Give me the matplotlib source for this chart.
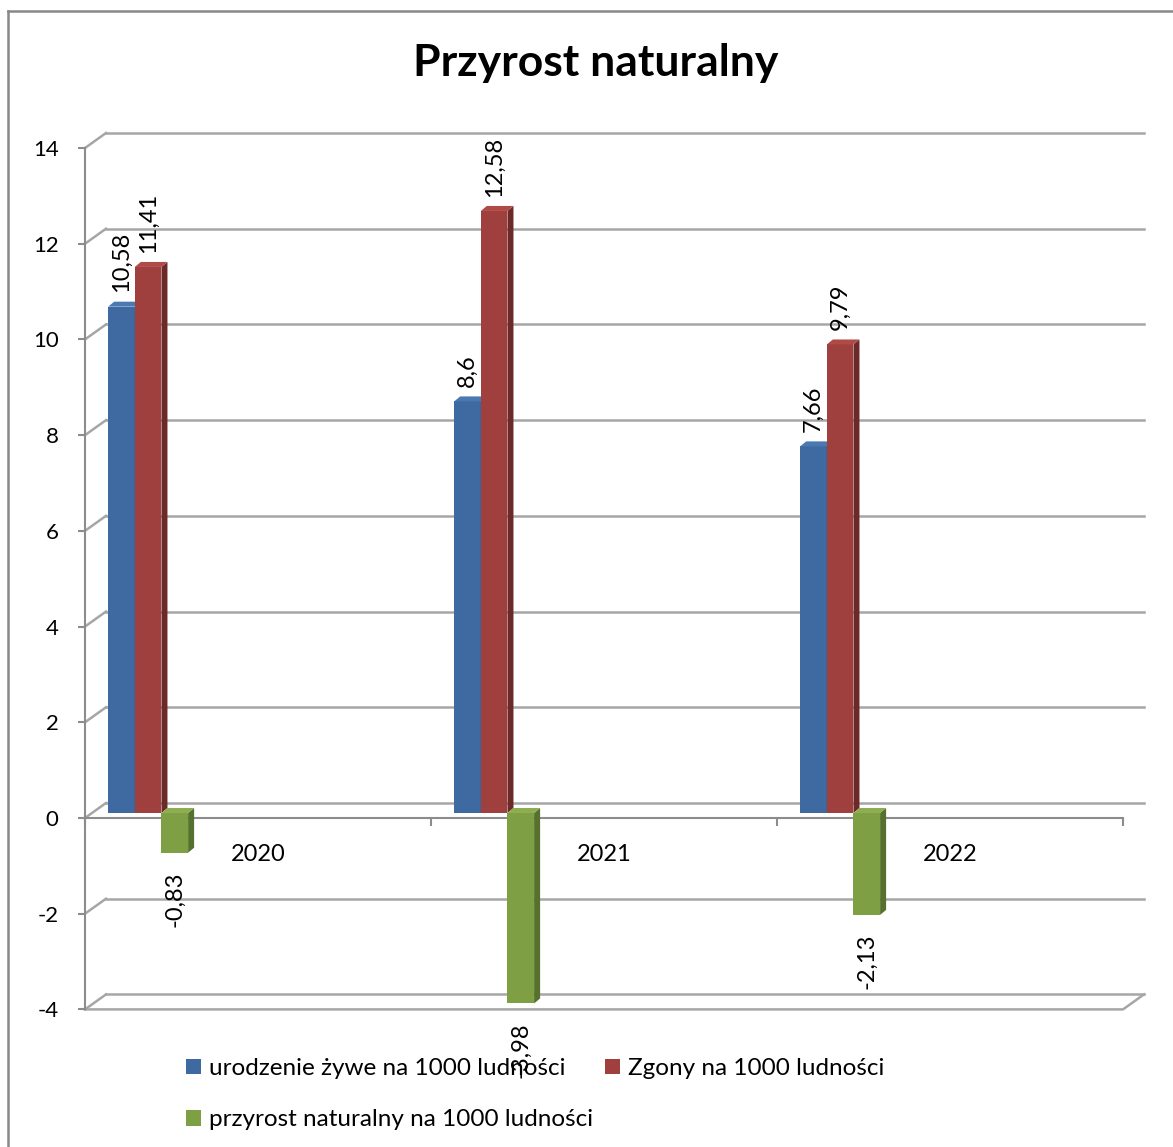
import matplotlib
matplotlib.use('Agg')
import matplotlib.pyplot as plt
from matplotlib.patches import Polygon, Rectangle
from matplotlib.lines import Line2D
from matplotlib import transforms

plt.rcParams['font.family'] = ['Lato', 'DejaVu Sans']
plt.rcParams['axes.unicode_minus'] = False

years = ['2020', '2021', '2022']
urodzenia = [10.58, 8.6, 7.66]
zgony = [11.41, 12.58, 9.79]
przyrost = [-0.83, -3.98, -2.13]
series_names = ['urodzenie żywe na 1000 ludności',
                'Zgony na 1000 ludności',
                'przyrost naturalny na 1000 ludności']
yticks = [-4, -2, 0, 2, 4, 6, 8, 10, 12, 14]

front = ['#3F6AA1', '#A0403E', '#7F9F45']
side = ['#2C4B73', '#6B2A28', '#56702E']
top = ['#4A78B0', '#B04A47', '#8DAE50']
grid_c = '#A6A6A6'

W, H = 1173, 1147
fig = plt.figure(figsize=(W / 100, H / 100), dpi=100)
x0, x1, ytop, ybot = 85, 1123, 148, 1009.4
ax = fig.add_axes([x0 / W, (H - ybot) / H, (x1 - x0) / W, (ybot - ytop) / H])
ax.set_xlim(0, 3)
ax.set_ylim(-4, 14)
ppx = (x1 - x0) / 3
ppy = (ybot - ytop) / 18

# depth of the 3d walls, in data units
DX, DY = 21 / ppx, 15 / ppy
for v in yticks:
    ax.plot([DX, 3 + DX], [v + DY, v + DY], color=grid_c, lw=1.8, zorder=1, clip_on=False)
    ax.plot([0, DX], [v, v + DY], color=grid_c, lw=1.8, zorder=1, clip_on=False)
# floor
ax.plot([0, 3, 3 + DX], [-4, -4, -4 + DY], color=grid_c, lw=1.8, zorder=1, clip_on=False)

for s in ['top', 'right']:
    ax.spines[s].set_visible(False)
ax.spines['left'].set_color('#8C8C8C')
ax.spines['left'].set_linewidth(1.5)
ax.spines['bottom'].set_position(('data', 0))
ax.spines['bottom'].set_color('#8C8C8C')
ax.spines['bottom'].set_linewidth(1.5)
ax.set_yticks(yticks)
ax.set_yticklabels([str(v) for v in yticks])
ax.tick_params(axis='y', direction='out', length=5, width=1.5, color='#8C8C8C',
               pad=14, labelsize=16)
ax.set_xticks([0, 1, 2, 3])
ax.set_xticklabels([])
ax.set_xticks([0.5, 1.5, 2.5], minor=True)
ax.set_xticklabels(years, minor=True)
ax.tick_params(axis='x', which='major', direction='out', length=6, width=1.5, color='#8C8C8C')
ax.tick_params(axis='x', which='minor', length=0, pad=19, labelsize=17)
ax.patch.set_visible(False)

# bars sit a bit inside the depth
shift = transforms.offset_copy(ax.transData, fig=fig, x=0, y=5, units='dots')
bw = 0.077
bdx, bdy = 6 / ppx, 5 / ppy
series = [urodzenia, zgony, przyrost]
for k, vals in enumerate(series):
    for i, v in enumerate(vals):
        xl = i + 0.067 + k * bw
        xr = xl + bw
        z = 3 + k
        ax.add_patch(Rectangle((xl, 0), bw, v, facecolor=front[k], edgecolor='none',
                               transform=shift, zorder=z))
        ax.add_patch(Polygon([(xr, 0), (xr, v), (xr + bdx, v + bdy), (xr + bdx, bdy)],
                             closed=True, facecolor=side[k], edgecolor='none',
                             transform=shift, zorder=z))
        ytop_face = max(v, 0)
        ax.add_patch(Polygon([(xl, ytop_face), (xr, ytop_face), (xr + bdx, ytop_face + bdy),
                              (xl + bdx, ytop_face + bdy)],
                             closed=True, facecolor=top[k], edgecolor='none',
                             transform=shift, zorder=z))
        lab = f'{v:g}'.replace('.', ',')
        if v >= 0:
            ax.annotate(lab, (xl + bw / 2, v), xytext=(0, 14), textcoords='offset points',
                        rotation=90, ha='center', va='bottom', fontsize=17, zorder=10)
        else:
            ax.annotate(lab, (xl + bw / 2, v), xytext=(0, -10), textcoords='offset points',
                        rotation=90, ha='center', va='top', fontsize=17, zorder=10)

handles = [Rectangle((0, 0), 1, 1, facecolor=c, edgecolor='none') for c in front]
leg = fig.legend([handles[0], handles[2], handles[1]],
                 [series_names[0], series_names[2], series_names[1]],
                 ncol=2, loc='upper left', bbox_to_anchor=(186 / W, 1 - 1058 / H),
                 frameon=False, fontsize=17.5, handlelength=0.6, handleheight=0.6,
                 handletextpad=0.35, columnspacing=0.5, labelspacing=1.25,
                 borderpad=0, borderaxespad=0)

fig.text(596 / W, 1 - 63 / H, 'Przyrost naturalny', ha='center', va='center',
         fontsize=32, fontweight='bold')

# chart frame
fig.add_artist(Line2D([8 / W, 8 / W], [0, 1 - 11 / H], color='#888888', lw=1.8))
fig.add_artist(Line2D([8 / W, 1], [1 - 11 / H, 1 - 11 / H], color='#888888', lw=1.8))

fig.savefig('out.png', dpi=100)
